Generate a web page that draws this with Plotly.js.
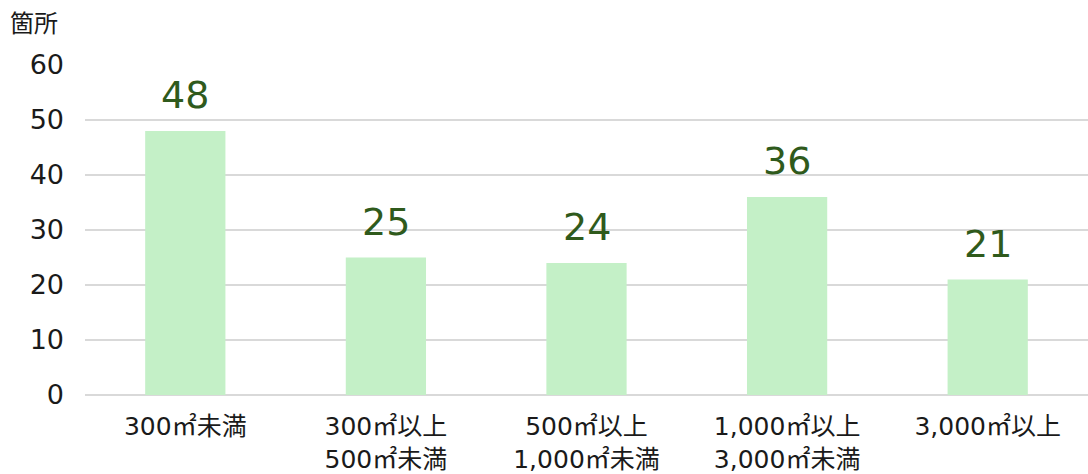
<!DOCTYPE html>
<html>
<head>
<meta charset="utf-8">
<script src="https://cdn.plot.ly/plotly-3.0.1.min.js"></script>
<style>html,body{margin:0;padding:0;background:#fff;}#chart{width:1088px;height:474px;}</style>
</head>
<body>
<div id="chart"></div>
<script>
var categories = ["300㎡未満", "300㎡以上<br>500㎡未満", "500㎡以上<br>1,000㎡未満", "1,000㎡以上<br>3,000㎡未満", "3,000㎡以上"];
var values = [48, 25, 24, 36, 21];
var yTicks = [0, 10, 20, 30, 40, 50, 60];
var unitLabel = "箇所";

var font = "'DejaVu Sans', 'Noto Sans CJK JP', sans-serif";
var cjk = "'Noto Sans CJK JP', sans-serif";

var trace = {
  type: "bar",
  x: categories,
  y: values,
  marker: {color: "#c4f0c7"},
  width: 0.4,
  hoverinfo: "none"
};

var annotations = categories.map(function(c, i) {
  return {
    x: c, y: values[i], xref: "x", yref: "y",
    text: String(values[i]), showarrow: false,
    yanchor: "bottom", yshift: 12,
    font: {family: font, size: 38, color: "#2f5a1c"}
  };
});
annotations.push({
  xref: "paper", yref: "paper", x: -0.077, y: 1.0, xanchor: "left", yanchor: "middle",
  yshift: 44,
  text: unitLabel, showarrow: false,
  font: {family: cjk, size: 24, color: "#1a1a1a"}
});

var layout = {
  width: 1088, height: 474,
  margin: {l: 85, r: 0, t: 65, b: 79},
  paper_bgcolor: "#fff", plot_bgcolor: "#fff",
  showlegend: false,
  font: {family: font, color: "#1a1a1a"},
  xaxis: {
    type: "category",
    tickfont: {family: font, size: 25, color: "#1a1a1a"},
    ticks: "", showgrid: false, zeroline: false, showline: false,
    automargin: false, ticklabelstandoff: 14
  },
  yaxis: {
    range: [0, 60], tickvals: yTicks,
    tickfont: {family: font, size: 27, color: "#1a1a1a"},
    gridcolor: "#d9d9d9", gridwidth: 2,
    zeroline: true, zerolinecolor: "#d9d9d9", zerolinewidth: 2,
    ticks: "", ticklen: 0, showline: false, automargin: false,
    ticklabelstandoff: 20
  },
  annotations: annotations
};

Plotly.newPlot("chart", [trace], layout, {staticPlot: true, displayModeBar: false});
</script>
</body>
</html>
